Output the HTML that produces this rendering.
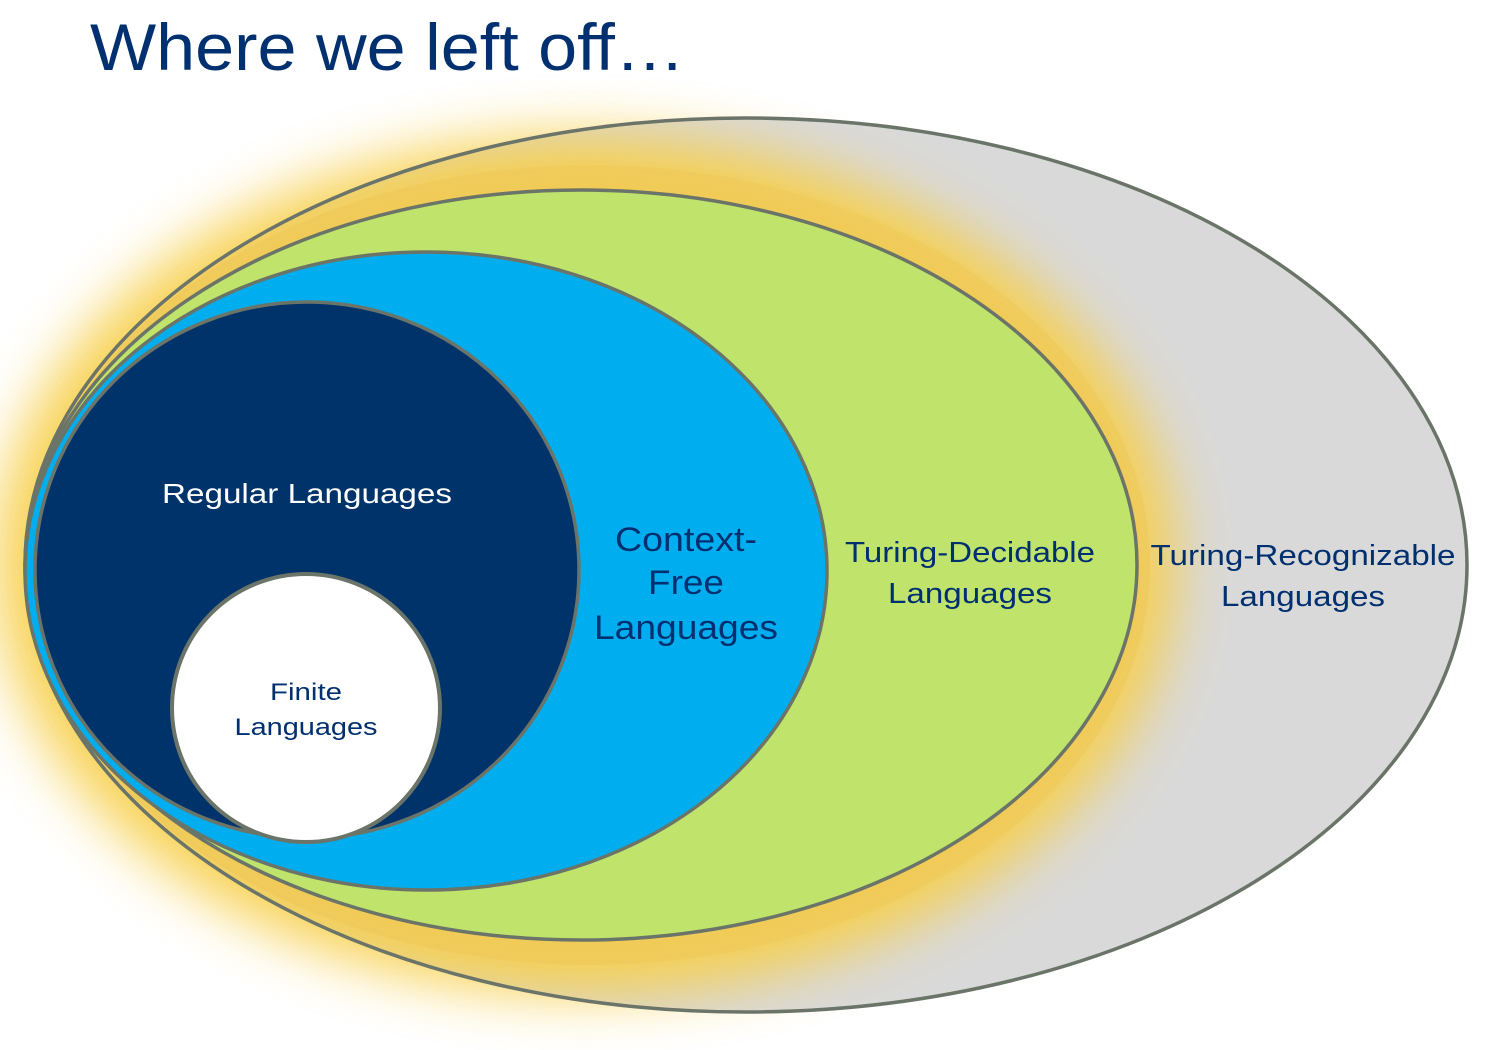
<!DOCTYPE html>
<html><head><style>
body{margin:0;background:#fff;}
svg{display:block;}
text{font-family:"Liberation Sans",Arial,sans-serif;}
</style></head><body>
<svg width="1500" height="1050" viewBox="0 0 1500 1050" xmlns="http://www.w3.org/2000/svg">
<defs>
<filter id="blur" x="-20%" y="-20%" width="140%" height="140%"><feGaussianBlur stdDeviation="28"/></filter>
</defs>
<rect width="1500" height="1050" fill="#fff"/>
<text x="90" y="70" font-size="66" fill="#003070" textLength="595" lengthAdjust="spacingAndGlyphs">Where we left off…</text>
<ellipse cx="746" cy="565" rx="721" ry="447" fill="#d9d9d9"/>
<ellipse cx="585" cy="565" rx="590" ry="430" fill="#f7cf4a" filter="url(#blur)" opacity="0.95"/>
<ellipse cx="590" cy="565" rx="560" ry="400" fill="#eec85a" opacity="0.6"/>
<ellipse cx="746" cy="565" rx="721" ry="447" fill="none" stroke="#6b7468" stroke-width="3.5"/>
<ellipse cx="581" cy="565" rx="556" ry="375" fill="#bfe36b" stroke="#6b7468" stroke-width="3.5"/>
<ellipse cx="426" cy="571" rx="401" ry="319" fill="#00aeef" stroke="#6b7468" stroke-width="3.5"/>
<ellipse cx="307" cy="570" rx="272" ry="268" fill="#003369" stroke="#6b7468" stroke-width="3.5"/>
<circle cx="306" cy="708" r="134" fill="#fff" stroke="#6b7468" stroke-width="4"/>
<text x="307" y="503" font-size="28" fill="#fff" text-anchor="middle" textLength="290" lengthAdjust="spacingAndGlyphs">Regular Languages</text>
<g font-size="34" fill="#003070" text-anchor="middle">
<text x="686" y="551" textLength="142" lengthAdjust="spacingAndGlyphs">Context-</text>
<text x="686" y="594" textLength="76" lengthAdjust="spacingAndGlyphs">Free</text>
<text x="686" y="639" textLength="184" lengthAdjust="spacingAndGlyphs">Languages</text>
</g>
<g font-size="29" fill="#003070" text-anchor="middle">
<text x="970" y="562" textLength="250" lengthAdjust="spacingAndGlyphs">Turing-Decidable</text>
<text x="970" y="603" textLength="164" lengthAdjust="spacingAndGlyphs">Languages</text>
<text x="1303" y="565" textLength="305" lengthAdjust="spacingAndGlyphs">Turing-Recognizable</text>
<text x="1303" y="606" textLength="164" lengthAdjust="spacingAndGlyphs">Languages</text>
</g>
<g font-size="24" fill="#003070" text-anchor="middle">
<text x="306" y="700" textLength="72" lengthAdjust="spacingAndGlyphs">Finite</text>
<text x="306" y="735" textLength="143" lengthAdjust="spacingAndGlyphs">Languages</text>
</g>
</svg>
</body></html>
